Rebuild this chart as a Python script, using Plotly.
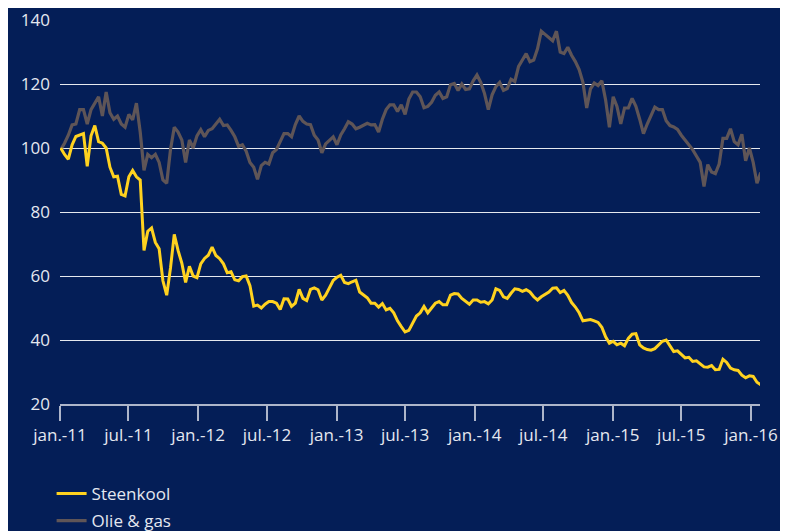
import pandas as pd
import plotly.graph_objects as go

# Sample dates: every 10 days from 3 Jan 2011
dates = pd.date_range("2011-01-03", periods=186, freq="10D")

steenkool = [
    100, 98, 96.5, 101, 103.6, 104, 104.5, 94.3, 103.8, 107,
    102, 101.5, 100, 94, 91, 91.2, 85.5, 85, 91, 93,
    91, 90, 68, 74, 75, 70.5, 68.5, 58.5, 54, 62.5,
    73, 68, 64, 58, 63, 60, 59.5, 63.8, 65.5, 66.5,
    69, 66.4, 65.4, 63.8, 61, 61.3, 58.8, 58.5, 59.8, 60,
    57, 50.6, 50.9, 50, 51.2, 52, 52, 51.5, 49.5, 52.9,
    52.8, 50.5, 51.5, 55.8, 53, 52.3, 55.8, 56.3, 55.7, 52.5,
    54, 56.3, 58.6, 59.6, 60.2, 58, 57.6, 58.2, 58.7, 55,
    54, 53.2, 51.5, 51.5, 50.3, 51.4, 49.4, 49.9, 48.5, 46,
    44.2, 42.5, 43, 45.5, 47.5, 48.5, 50.5, 48.5, 50, 51.5,
    52, 51, 51, 54, 54.5, 54.4, 53, 52, 51.2, 52.5,
    52.5, 51.8, 52, 51.3, 52.5, 56, 55.5, 53.5, 53, 54.6,
    56, 55.8, 55.2, 55.7, 55, 53.5, 52.5, 53.5, 54.3, 55,
    56.2, 56.3, 54.8, 55.5, 54, 51.7, 50.3, 48.5, 46, 46.3,
    46.4, 46, 45.5, 44, 41, 39, 39.6, 38.5, 39, 38.2,
    40.5, 41.8, 42, 38.5, 37.5, 37, 36.8, 37.3, 38.6, 39.6,
    40, 38.2, 36.4, 36.6, 35.6, 34.4, 34.6, 33.3, 33.5, 32.4,
    31.6, 31.5, 32, 30.7, 30.8, 34, 33, 31.2, 30.7, 30.5,
    29, 28.2, 28.8, 28.6, 26.8, 26,
]

olie_gas = [
    99.5, 101.5, 104, 107.2, 107.5, 112, 112, 107.5, 112, 114.2,
    116, 110, 117.5, 111, 109, 110, 107.5, 106.5, 110.5, 108.8,
    114, 105, 93, 98, 97, 98, 95.5, 90, 89, 99.5,
    106.5, 105, 102.5, 95.5, 102.5, 100, 103.8, 105.7, 103.5, 105.5,
    106, 107.5, 109, 107, 107.2, 105.5, 103.5, 100.5, 101, 99,
    95.5, 94, 90.2, 94.5, 95.5, 95, 98.5, 99.5, 102, 104.5,
    104.5, 103.5, 107.3, 110, 108.3, 107.5, 107.3, 104, 102.5, 98.5,
    101.3, 102.5, 103.5, 101, 104.1, 106, 108.2, 107.5, 106, 106.5,
    107.2, 107.7, 107.2, 107.3, 105, 109, 112, 113.5, 113.5, 111.4,
    113.5, 110.5, 115.3, 117.5, 117.5, 116, 112.6, 113, 114.3, 116.5,
    117.5, 115.5, 116, 119.8, 120.2, 118, 120, 118.3, 118.5, 121,
    122.8, 120.5, 117, 112, 116.6, 119.2, 120.5, 118, 118.6, 121.5,
    120.8, 125.5, 127.5, 129.5, 127, 127.5, 131, 136.5, 135.5, 134.6,
    133.5, 136.5, 130, 129.5, 131.5, 129, 127, 124.5, 120.5, 112.5,
    118.5, 120.3, 119.5, 121, 115, 106.5, 116, 113, 107.5, 112.5,
    112.5, 115.5, 113, 109, 104.5, 107.5, 110, 112.8, 112, 112,
    108.5, 107, 106.6, 105.8, 104, 102.5, 100.8, 99.5, 97.5, 95.5,
    88, 94.8, 92.5, 92, 95, 103, 103, 106, 102, 101,
    104.3, 96, 100, 95.5, 89, 92.3,
]

tick_dates = ["2011-01-01", "2011-07-01", "2012-01-01", "2012-07-01",
              "2013-01-01", "2013-07-01", "2014-01-01", "2014-07-01",
              "2015-01-01", "2015-07-01", "2016-01-01"]
tick_labels = ["jan.-11", "jul.-11", "jan.-12", "jul.-12", "jan.-13",
               "jul.-13", "jan.-14", "jul.-14", "jan.-15", "jul.-15", "jan.-16"]
y_ticks = [20, 40, 60, 80, 100, 120, 140]

BG = "#041E57"
FONT = "Open Sans"
TXT = "#E4E8F0"

fig = go.Figure()
fig.add_trace(go.Scatter(x=dates, y=olie_gas, name="Olie & gas", mode="lines",
                         legendgroup="b", legendrank=2,
                         line=dict(color="#5F5557", width=3.2)))
fig.add_trace(go.Scatter(x=dates, y=steenkool, name="Steenkool", mode="lines",
                         legendgroup="a", legendrank=1,
                         line=dict(color="#FFD21F", width=3)))

fig.update_layout(
    width=788, height=545,
    paper_bgcolor=BG, plot_bgcolor=BG,
    margin=dict(l=52, r=36, t=12, b=149),
    font=dict(family=FONT, size=17, color=TXT),
    showlegend=True,
    legend=dict(orientation="v", x=-0.012, y=-0.1875, xanchor="left", yanchor="top",
                traceorder="grouped", tracegroupgap=2, itemwidth=30,
                font=dict(family=FONT, size=17, color=TXT),
                bgcolor="rgba(0,0,0,0)"),
    xaxis=dict(
        type="date", range=["2011-01-01", "2016-01-25"], automargin=False,
        tickmode="array", tickvals=tick_dates, ticktext=tick_labels,
        showgrid=False, zeroline=False,
        showline=True, linecolor="#AEB6CA", linewidth=1.5,
        ticks="outside", ticklen=15, tickwidth=1.5, tickcolor="#AEB6CA",
        tickfont=dict(family=FONT, size=17, color=TXT),
    ),
    yaxis=dict(
        range=[20, 140], tickmode="array", tickvals=y_ticks, automargin=False,
        showgrid=True, gridcolor="rgba(255,255,255,0.9)", gridwidth=1,
        zeroline=False, showline=False, ticks="",
        tickfont=dict(family=FONT, size=17, color=TXT),
        ticklabelstandoff=9, ticklabeloverflow="allow",
    ),
)

fig.write_html("out.html")
